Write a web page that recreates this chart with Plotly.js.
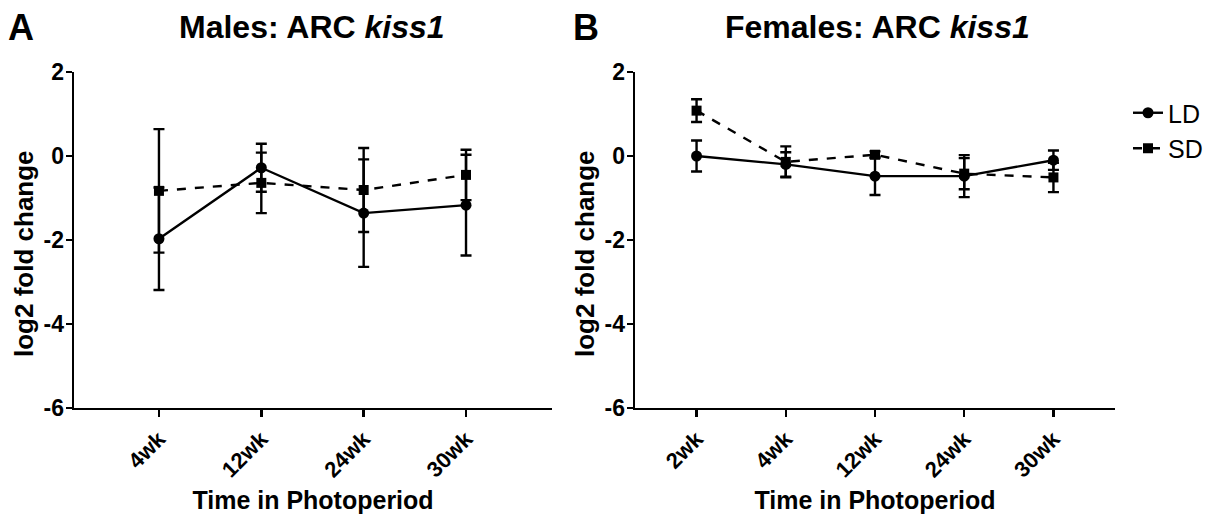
<!DOCTYPE html>
<html>
<head>
<meta charset="utf-8">
<script src="https://cdn.plot.ly/plotly-3.0.1.min.js"></script>
<style>html,body{margin:0;padding:0;background:#fff;}#chart{width:1214px;height:520px;}</style>
</head>
<body>
<div id="chart"></div>
<script>
// Males (panel A)
const maleWeeks = ["4wk", "12wk", "24wk", "30wk"];
const maleLD = [-1.97, -0.28, -1.36, -1.17];
const maleLDerr = [1.22, 0.57, 1.28, 1.2];
const maleSD = [-0.83, -0.64, -0.81, -0.45];
const maleSDerr = [1.47, 0.72, 1.0, 0.6];

// Females (panel B)
const femaleWeeks = ["2wk", "4wk", "12wk", "24wk", "30wk"];
const femaleLD = [0.0, -0.2, -0.48, -0.48, -0.1];
const femaleLDerr = [0.37, 0.29, 0.45, 0.5, 0.23];
const femaleSD = [1.08, -0.14, 0.03, -0.42, -0.51];
const femaleSDerr = [0.27, 0.37, 0.08, 0.37, 0.35];

const yTicks = [2, 0, -2, -4, -6];

function trace(x, y, err, name, dash, symbol, xa, ya, show) {
  return {
    x: x, y: y, name: name, type: 'scatter', mode: 'lines+markers',
    xaxis: xa, yaxis: ya, showlegend: show,
    line: {color: '#000', width: 2.4, dash: dash},
    marker: {color: '#000', size: symbol === 'square' ? 10 : 11, symbol: symbol},
    error_y: {type: 'data', array: err, visible: true, color: '#000', thickness: 2.4, width: 5.5}
  };
}

const data = [
  trace(maleWeeks, maleLD, maleLDerr, 'LD', 'solid', 'circle', 'x', 'y', false),
  trace(maleWeeks, maleSD, maleSDerr, 'SD', 'dash', 'square', 'x', 'y', false),
  trace(femaleWeeks, femaleLD, femaleLDerr, 'LD', 'solid', 'circle', 'x2', 'y2', true),
  trace(femaleWeeks, femaleSD, femaleSDerr, 'SD', 'dash', 'square', 'x2', 'y2', true)
];

const FONT = 'Liberation Sans, Arial, sans-serif';
function xaxis(domain, range, anchor, cats) {
  return {
    domain: domain, anchor: anchor, type: 'category', range: range,
    tickvals: cats, ticktext: cats.map(c => '<b>' + c + '</b>'),
    showline: true, linecolor: '#000', linewidth: 2.4, mirror: false,
    ticks: 'outside', ticklen: 7, tickwidth: 2.4, tickcolor: '#000',
    showgrid: false, zeroline: false, tickangle: -45,
    tickfont: {family: FONT, size: 22, color: '#000'},
    title: {text: '<b>Time in Photoperiod</b>', font: {family: FONT, size: 25, color: '#000'}, standoff: 11}
  };
}
function yaxis(domain, anchor) {
  return {
    domain: domain, anchor: anchor, range: [-6, 2],
    tickvals: yTicks, ticktext: yTicks.map(v => '<b>' + v + '</b>'),
    showline: true, linecolor: '#000', linewidth: 2.4,
    ticks: 'outside', ticklen: 6, tickwidth: 2.4, tickcolor: '#000',
    ticklabelstandoff: -3,
    showgrid: false, zeroline: false,
    tickfont: {family: FONT, size: 23, color: '#000'}
  };
}

function note(text, px, py, size, opts) {
  return Object.assign({text: text, x: px / 1214, y: 1 - py / 520, xref: 'paper', yref: 'paper',
    xanchor: 'center', yanchor: 'middle', showarrow: false,
    font: {family: FONT, size: size, color: '#000'}}, opts || {});
}

const yDom = [1 - 408 / 520, 1 - 72 / 520];
const layout = {
  width: 1214, height: 520,
  margin: {l: 0, r: 0, t: 0, b: 0},
  paper_bgcolor: '#fff', plot_bgcolor: '#fff',
  font: {family: FONT, color: '#000'},
  xaxis: xaxis([74 / 1214, 552 / 1214], [-0.83, 3.84], 'y', maleWeeks),
  yaxis: yaxis(yDom, 'x'),
  xaxis2: xaxis([635 / 1214, 1115 / 1214], [-0.69, 4.69], 'y2', femaleWeeks),
  yaxis2: yaxis(yDom, 'x2'),
  showlegend: true,
  legend: {x: 1128 / 1214, y: 1 - 90 / 520, xanchor: 'left', yanchor: 'top', itemwidth: 30,
    tracegroupgap: 0,
    font: {family: FONT, size: 25, color: '#000'}, bgcolor: 'rgba(0,0,0,0)'},
  annotations: [
    note('<b>Males: ARC <i>kiss1</i></b>', 312, 27, 32),
    note('<b>Females: ARC <i>kiss1</i></b>', 877, 27, 32),
    note('<b>A</b>', 6, 27, 36, {xanchor: 'left'}),
    note('<b>B</b>', 571, 27, 36, {xanchor: 'left'}),
    note('<b>log2 fold change</b>', 24, 254, 26, {textangle: -90}),
    note('<b>log2 fold change</b>', 585, 254, 26, {textangle: -90})
  ]
};

Plotly.newPlot('chart', data, layout, {displayModeBar: false, staticPlot: true});
</script>
</body>
</html>
